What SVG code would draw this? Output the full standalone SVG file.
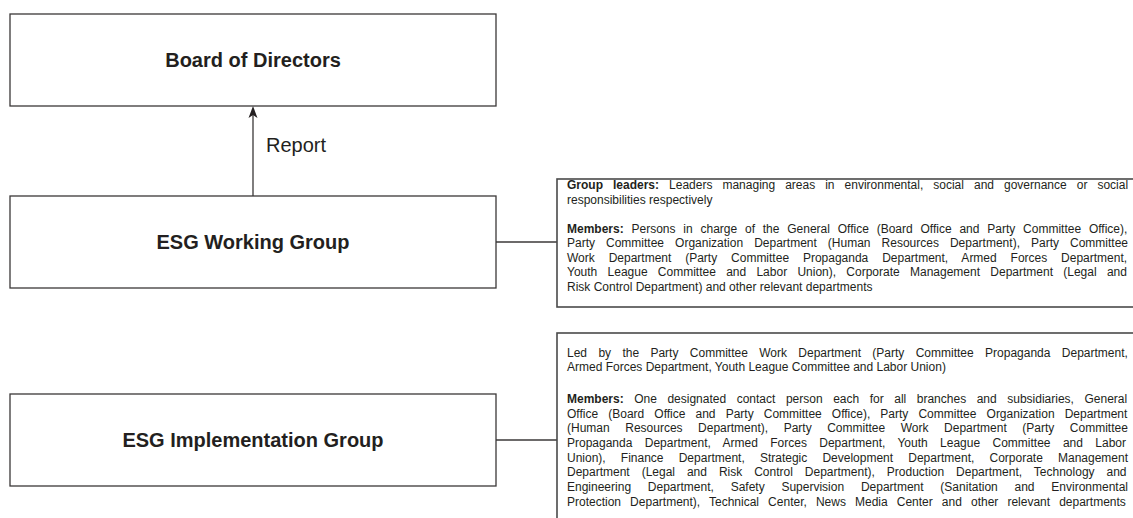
<svg xmlns="http://www.w3.org/2000/svg" width="1133" height="518" viewBox="0 0 1133 518">
<style>
.box{fill:#fff;stroke:#3b3838;stroke-width:1.3}
.tbox{fill:#fff;stroke:#4a4a4a;stroke-width:1.6}
.title{font-family:"Liberation Sans",Arial,sans-serif;font-size:20px;font-weight:bold;fill:#231f20;text-anchor:middle}
.lbl{font-family:"Liberation Sans",Arial,sans-serif;font-size:20px;fill:#231f20}
.t{font-family:"Liberation Sans",Arial,sans-serif;font-size:12px;fill:#231f20}
.b{font-weight:bold}
.conn{stroke:#3b3838;stroke-width:1.3;fill:none}
</style>
<rect width="1133" height="518" fill="#fff"/>
<g id="connectors">
<line class="conn" x1="253" y1="196" x2="253" y2="112"/>
<path d="M253,106 L248.5,118 L253,115 L257.5,118 Z" fill="#231f20"/>
<text class="lbl" x="266" y="152">Report</text>
<line class="conn" x1="496" y1="242" x2="557" y2="242"/>
<line class="conn" x1="496" y1="440" x2="557" y2="440"/>
</g>
<g id="board">
<rect class="box" x="10" y="14" width="486" height="92"/>
<text class="title" x="253" y="67">Board of Directors</text>
</g>
<g id="working">
<rect class="box" x="10" y="196" width="486" height="92"/>
<text class="title" x="253" y="249">ESG Working Group</text>
</g>
<g id="implementation">
<rect class="box" x="10" y="394" width="486" height="92"/>
<text class="title" x="253" y="447">ESG Implementation Group</text>
</g>
<g id="working-desc">
<rect class="tbox" x="557" y="179" width="600" height="128"/>
<text class="t" x="567" y="189" word-spacing="6.68"><tspan class="b">Group leaders:</tspan> Leaders managing areas in environmental, social and governance or social</text>
<text class="t" x="567" y="203.5">responsibilities respectively</text>
<text class="t" x="567" y="232.5" word-spacing="4.47"><tspan class="b">Members:</tspan> Persons in charge of the General Office (Board Office and Party Committee Office),</text>
<text class="t" x="567" y="247" word-spacing="7.69">Party Committee Organization Department (Human Resources Department), Party Committee</text>
<text class="t" x="567" y="261.5" word-spacing="10.52">Work Department (Party Committee Propaganda Department, Armed Forces Department,</text>
<text class="t" x="567" y="276" word-spacing="6.94">Youth League Committee and Labor Union), Corporate Management Department (Legal and</text>
<text class="t" x="567" y="290.5">Risk Control Department) and other relevant departments</text>
</g>
<g id="implementation-desc">
<rect class="tbox" x="557" y="333" width="600" height="220"/>
<text class="t" x="567" y="356.5" word-spacing="8.02">Led by the Party Committee Work Department (Party Committee Propaganda Department,</text>
<text class="t" x="567" y="371">Armed Forces Department, Youth League Committee and Labor Union)</text>
<text class="t" x="567" y="402.8" word-spacing="7.2"><tspan class="b">Members:</tspan> One designated contact person each for all branches and subsidiaries, General</text>
<text class="t" x="567" y="417.5" word-spacing="6.75">Office (Board Office and Party Committee Office), Party Committee Organization Department</text>
<text class="t" x="567" y="432.2" word-spacing="12.2">(Human Resources Department), Party Committee Work Department (Party Committee</text>
<text class="t" x="567" y="446.9" word-spacing="9.04">Propaganda Department, Armed Forces Department, Youth League Committee and Labor</text>
<text class="t" x="567" y="461.6" word-spacing="11.83">Union), Finance Department, Strategic Development Department, Corporate Management</text>
<text class="t" x="567" y="476.3" word-spacing="8.61">Department (Legal and Risk Control Department), Production Department, Technology and</text>
<text class="t" x="567" y="491" word-spacing="13.44">Engineering Department, Safety Supervision Department (Sanitation and Environmental</text>
<text class="t" x="567" y="505.7" word-spacing="5.75">Protection Department), Technical Center, News Media Center and other relevant departments</text>
</g>
</svg>
